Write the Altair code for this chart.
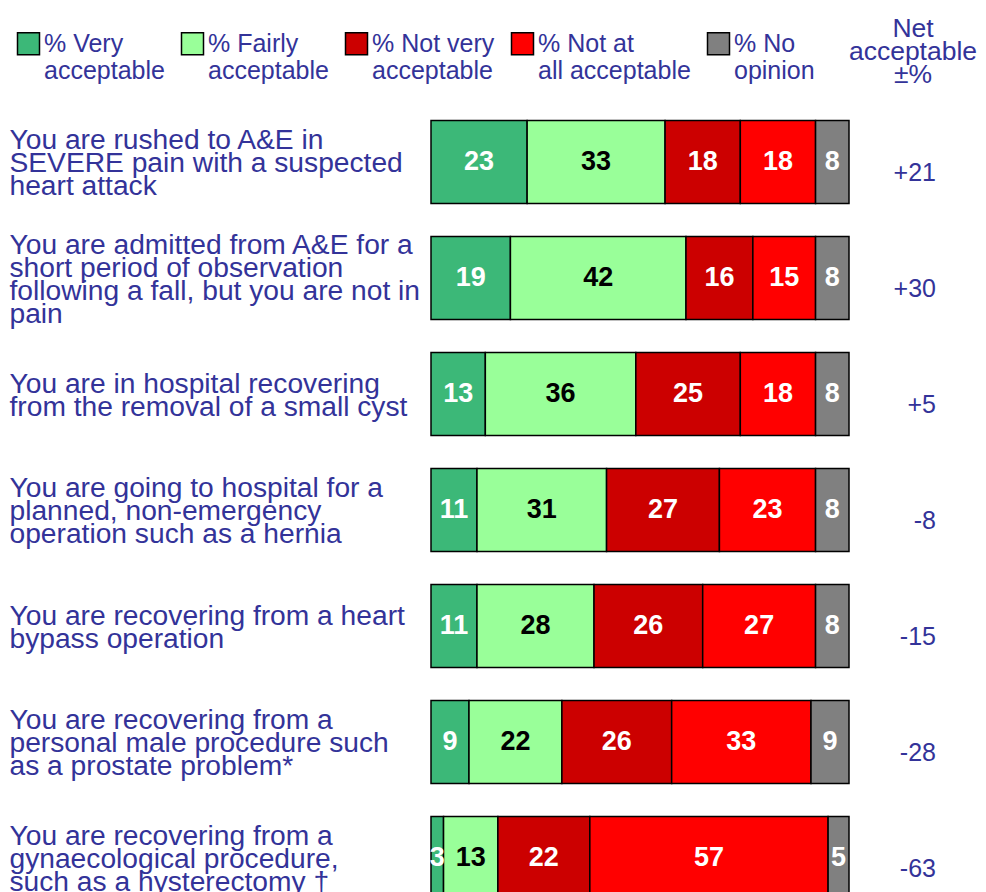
import altair as alt
import pandas as pd

questions = [
    "You are rushed to A&E in\nSEVERE pain with a suspected\nheart attack",
    "You are admitted from A&E for a\nshort period of observation\nfollowing a fall, but you are not in\npain",
    "You are in hospital recovering\nfrom the removal of a small cyst",
    "You are going to hospital for a\nplanned, non-emergency\noperation such as a hernia",
    "You are recovering from a heart\nbypass operation",
    "You are recovering from a\npersonal male procedure such\nas a prostate problem*",
    "You are recovering from a\ngynaecological procedure,\nsuch as a hysterectomy \u2020",
]
categories = [
    "% Very\nacceptable",
    "% Fairly\nacceptable",
    "% Not very\nacceptable",
    "% Not at\nall acceptable",
    "% No\nopinion",
]
colors = ["#3cb878", "#99ff99", "#cc0000", "#ff0000", "#808080"]
very = [23, 19, 13, 11, 11, 9, 3]
fairly = [33, 42, 36, 31, 28, 22, 13]
not_very = [18, 16, 25, 27, 26, 26, 22]
not_at_all = [18, 15, 18, 23, 27, 33, 57]
no_opinion = [8, 8, 8, 8, 8, 9, 5]
net = [21, 30, 5, -8, -15, -28, -63]

series = [very, fairly, not_very, not_at_all, no_opinion]
rows = []
for qi, q in enumerate(questions):
    for ci, c in enumerate(categories):
        rows.append({"q": q, "cat": c, "order": ci, "value": series[ci][qi]})
df = pd.DataFrame(rows)
net_df = pd.DataFrame({"q": questions, "net": net})

TXT = "#333399"
FONT = "Liberation Sans"
LH = 23
NLINES = "length(split(datum.value, '\\n'))"

y_enc = alt.Y(
    "q:N",
    sort=questions,
    scale=alt.Scale(paddingInner=0.285, paddingOuter=0.1425),
    axis=alt.Axis(
        title=None,
        domain=False,
        ticks=False,
        labelAlign="left",
        labelPadding=422,
        labelFontSize=28.2,
        labelLineHeight=LH,
        labelColor=TXT,
        labelFont=FONT,
        labelLimit=0,
        labelBaseline="middle",
        labelOffset={
            "condition": [
                {"test": NLINES + " == 4", "value": -1.5 * LH + 2},
                {"test": NLINES + " == 3", "value": -1.0 * LH + 2},
                {"test": NLINES + " == 2", "value": -0.5 * LH + 2},
            ],
            "value": 2,
        },
        labelExpr="split(datum.label, '\\n')",
    ),
)

base = alt.Chart(df).transform_stack(
    stack="value", as_=["x0", "x1"], groupby=["q"],
    sort=[alt.SortField("order")], offset="normalize",
).transform_calculate(mid="(datum.x0 + datum.x1) / 2")

bars = base.mark_bar(stroke="black", strokeWidth=1.5).encode(
    y=y_enc,
    x=alt.X("x0:Q", axis=None, scale=alt.Scale(domain=[0, 1], nice=False)),
    x2="x1:Q",
    color=alt.Color(
        "cat:N",
        sort=categories,
        scale=alt.Scale(domain=categories, range=colors),
        legend=alt.Legend(
            title=None,
            orient="none",
            legendX=-415,
            legendY=-73,
            direction="horizontal",
            columns=5,
            symbolType="square",
            symbolSize=484,
            symbolStrokeColor="black",
            symbolStrokeWidth=1.5,
            symbolOpacity=1,
            labelFontSize=25,
            labelColor=TXT,
            labelFont=FONT,
            labelOffset=3,
            labelLimit=0,
            columnPadding=13,
            labelBaseline="middle",
            labelExpr="split(datum.label, '\\n')",
        ),
    ),
    order=alt.Order("order:Q"),
)

labels = base.mark_text(fontSize=27, fontWeight="bold", font=FONT).encode(
    y=alt.Y("q:N", sort=questions),
    x=alt.X("mid:Q"),
    text=alt.Text("value:Q"),
    color=alt.condition("datum.order === 1", alt.value("black"), alt.value("white")),
)

net_text = alt.Chart(net_df).transform_calculate(
    lbl="(datum.net > 0 ? '+' : '') + datum.net"
).mark_text(fontSize=25, font=FONT, color=TXT, align="right", dy=11).encode(
    y=alt.Y("q:N", sort=questions),
    x=alt.value(505),
    text="lbl:N",
)

header = alt.Chart(pd.DataFrame({"t": [0]})).mark_text(
    text=["Net", "acceptable", "\u00b1%"],
    fontSize=26.5, font=FONT, color=TXT, align="center", baseline="middle", lineHeight=LH,
).encode(x=alt.value(482), y=alt.value(-75))

chart = alt.layer(bars, labels, net_text, header).properties(
    width=418,
    height=812,
    autosize=alt.AutoSizeParams(type="none"),
    padding={"left": 423, "top": 96, "right": 129, "bottom": 0},
).configure_view(stroke=None)

chart.save("out.html", embed_options={"renderer": "svg", "actions": False})
